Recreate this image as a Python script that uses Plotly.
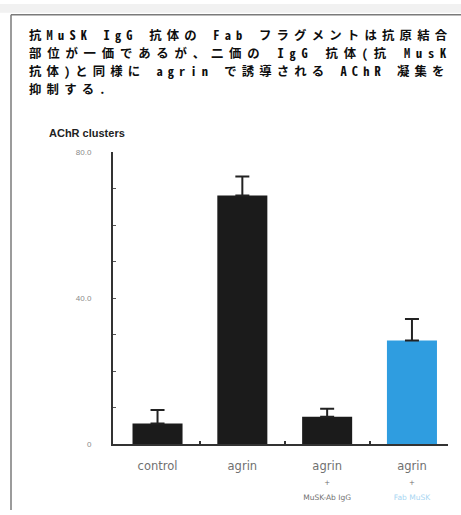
import plotly.graph_objects as go

W, H = 461, 515

# ---- data ----
categories = ["control", "agrin", "agrin + MuSK-Ab IgG", "agrin + Fab MuSK"]
values = [5.7, 68.2, 7.5, 28.4]
errors = [3.7, 5.2, 2.2, 5.9]
bar_colors = ["#1b1b1b", "#1b1b1b", "#1b1b1b", "#2f9de0"]
tick_labels = [
    "control",
    "agrin",
    "agrin<br><span style='font-size:7px'>+</span><br><span style='font-size:7.5px'>MuSK-Ab IgG</span>",
    "agrin<br><span style='font-size:7px'>+</span><br><span style='font-size:7.5px;color:#a9d6f2'>Fab MuSK</span>",
]
y_tickvals = [0, 10, 20, 30, 40, 50, 60, 70, 80]
y_ticktext = ["0", "", "", "", "40.0", "", "", "", "80.0"]
title_lines = [
    "抗MuSK IgG 抗体の Fab フラグメントは抗原結合",
    "部位が一価であるが、二価の IgG 抗体(抗 MusK",
    "抗体)と同様に agrin で誘導される AChR 凝集を",
    "抑制する.",
]
line_spacing_px = [5.2, 5.8, 5.1, 5.2]
y_title = "AChR clusters"

xpos = list(range(len(categories)))

def px_x(p):
    return p / W

def px_y(p):
    return 1 - p / H

fig = go.Figure()
fig.add_trace(go.Bar(
    x=xpos, y=values,
    marker=dict(color=bar_colors, line=dict(width=0)),
    width=0.59,
    error_y=dict(type="data", array=errors, arrayminus=[0] * len(errors),
                 symmetric=False, color="#222222", thickness=2, width=7),
    showlegend=False,
))
# invisible trace for boundary ticks on x axis
fig.add_trace(go.Scatter(x=[0.5], y=[0], xaxis="x2", mode="markers",
                         marker=dict(opacity=0), showlegend=False, hoverinfo="skip"))

xr = [-0.525, 3.425]
fig.update_layout(
    width=W, height=H,
    margin=dict(l=0, r=0, t=0, b=0),
    paper_bgcolor="white", plot_bgcolor="white",
    xaxis=dict(
        domain=[px_x(113), px_x(448)], range=xr,
        tickvals=xpos, ticktext=tick_labels, ticks="",
        showline=True, linecolor="#333333", linewidth=2,
        showgrid=False, zeroline=False, ticklabelstandoff=10,
        tickfont=dict(family="DejaVu Sans", size=11.5, color="#707070"),
        fixedrange=True,
    ),
    xaxis2=dict(
        domain=[px_x(113), px_x(448)], range=xr, overlaying="x", anchor="y",
        tickvals=[0.5, 1.5, 2.5], ticks="inside", ticklen=3, tickwidth=2,
        tickcolor="#333333", showticklabels=False, showgrid=False,
        zeroline=False, showline=False,
    ),
    yaxis=dict(
        domain=[px_y(448), px_y(151)], range=[0, 80],
        tickvals=y_tickvals, ticktext=y_ticktext,
        ticks="inside", ticklen=3, tickwidth=1.2, tickcolor="#555555",
        showline=True, linecolor="#333333", linewidth=2,
        showgrid=False, zeroline=False, ticklabelstandoff=18,
        tickfont=dict(family="Liberation Sans, Arial", size=8, color="#8a8a8a"),
        fixedrange=True,
    ),
    bargap=0.3,
)

# axis title
fig.add_annotation(text="<b>" + y_title + "</b>", x=px_x(47), y=px_y(131),
                   xref="paper", yref="paper", xanchor="left", yanchor="middle",
                   showarrow=False,
                   font=dict(family="Liberation Sans, Arial", size=11, color="#222222"))

# caption: one text block, line pitch set by base font size (~18px)
caption = "<br>".join(
    f"<span style='font-size:12.4px;letter-spacing:{ls}px'>{txt}</span>"
    for txt, ls in zip(title_lines, line_spacing_px)
)
fig.add_annotation(text=caption, x=px_x(29), y=px_y(59.5), xref="paper", yref="paper",
                   xanchor="left", yanchor="middle", align="left", showarrow=False,
                   borderpad=0, borderwidth=0,
                   font=dict(family="Noto Sans Mono CJK JP, Noto Sans CJK JP",
                             size=13.85, color="#0e0e0e", weight=600))

# frame
fig.add_shape(type="rect", xref="paper", yref="paper", x0=0, x1=1,
              y0=px_y(9), y1=1, line=dict(width=0), fillcolor="#f1f1f1", layer="below")
fig.add_shape(type="line", xref="paper", yref="paper", x0=px_x(11), x1=px_x(11),
              y0=0, y1=px_y(11), line=dict(color="#7a7a7a", width=1.5))
fig.add_shape(type="line", xref="paper", yref="paper", x0=px_x(11), x1=1,
              y0=px_y(11), y1=px_y(11), line=dict(color="#7a7a7a", width=1.5))

fig.write_html("out.html")
